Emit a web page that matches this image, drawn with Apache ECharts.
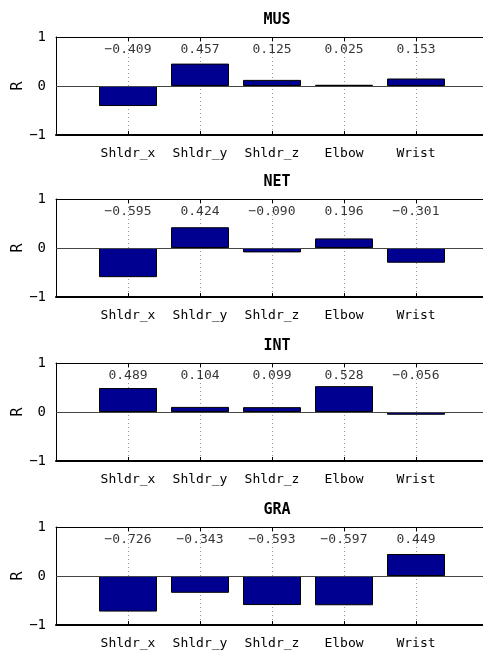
<!DOCTYPE html>
<html><head><meta charset="utf-8">
<script src="https://cdn.jsdelivr.net/npm/echarts@6/dist/echarts.min.js"></script>
<style>html,body{margin:0;padding:0;background:#fff}#c{width:483px;height:653px}</style>
</head><body><div id="c"></div>
<script>
const categories = ['Shldr_x', 'Shldr_y', 'Shldr_z', 'Elbow', 'Wrist'];
const panelTitles = ['MUS', 'NET', 'INT', 'GRA'];
const mus = [-0.409, 0.457, 0.125, 0.025, 0.153];
const net = [-0.595, 0.424, -0.090, 0.196, -0.301];
const int_ = [0.489, 0.104, 0.099, 0.528, -0.056];
const gra = [-0.726, -0.343, -0.593, -0.597, 0.449];
const yTicks = [-1, 0, 1];
const yLabel = 'R';

const panels = [mus, net, int_, gra];
const tops = [37, 199, 363, 527];
const H = 98;
const FONT = 'DejaVu Sans Mono';
const fmt = v => (v < 0 ? '\u2212' : '') + Math.abs(v).toFixed(3);

const grid = [], xAxis = [], yAxis = [], series = [], title = [];
panels.forEach((vals, i) => {
  grid.push({left: 56, top: tops[i], width: 432, height: H, containLabel: false, outerBoundsMode: 'none'});
  title.push({text: panelTitles[i], left: 272, top: tops[i] - 29, textAlign: 'center',
    textStyle: {fontFamily: FONT, fontSize: 15, fontWeight: 'bold', color: '#000'}});
  xAxis.push({gridIndex: i, type: 'value', min: 0, max: categories.length + 1, interval: 1,
    position: 'bottom',
    axisLine: {show: true, onZero: false, lineStyle: {color: '#000', width: 2}},
    axisTick: {show: true, inside: true, length: 4, lineStyle: {color: '#000'}},
    axisLabel: {show: true, fontFamily: FONT, fontSize: 13, color: '#000', margin: 12,
      formatter: v => (v >= 1 && v <= categories.length) ? categories[v - 1] : ''},
    splitLine: {show: true, lineStyle: {color: '#999', type: [1, 3], width: 1}}});
  xAxis.push({gridIndex: i, type: 'value', min: 0, max: categories.length + 1, interval: 1,
    position: 'top',
    axisLine: {show: true, onZero: false, lineStyle: {color: '#000', width: 1}},
    axisTick: {show: true, inside: true, length: 4, lineStyle: {color: '#000'}},
    axisLabel: {show: false}, splitLine: {show: false}});
  yAxis.push({gridIndex: i, type: 'value', min: yTicks[0], max: yTicks[yTicks.length - 1], interval: 1,
    name: yLabel, nameLocation: 'middle', nameGap: 30, nameRotate: 90, nameMoveOverlap: false,
    nameTextStyle: {fontFamily: FONT, fontSize: 15, color: '#000'},
    axisLine: {show: true, lineStyle: {color: '#000', width: 1}},
    axisTick: {show: true, inside: true, length: 4, lineStyle: {color: '#000'}},
    axisLabel: {fontFamily: FONT, fontSize: 14, color: '#000', margin: 10,
      formatter: v => (v < 0 ? '\u2212' : '') + Math.abs(v)},
    splitLine: {show: false}});
  series.push({type: 'bar', xAxisIndex: 2 * i, yAxisIndex: i, barWidth: 58,
    data: vals.map((v, k) => [k + 1, v]),
    itemStyle: {color: '#000090', borderColor: '#000', borderWidth: 1},
    markLine: {silent: true, symbol: 'none', label: {show: false},
      lineStyle: {color: '#444', type: 'solid', width: 1}, data: [{yAxis: 0}]},
    z: 3});
  series.push({type: 'scatter', xAxisIndex: 2 * i, yAxisIndex: i, symbolSize: 0,
    data: vals.map((v, k) => ({value: [k + 1, 0.75], txt: fmt(v)})),
    label: {show: true, position: 'inside', formatter: p => p.data.txt,
      fontFamily: FONT, fontSize: 13, color: '#000'}, z: 4});
});

const chart = echarts.init(document.getElementById('c'), null, {renderer: 'canvas'});
chart.setOption({animation: false, backgroundColor: '#fff', title, grid, xAxis, yAxis, series});
</script></body></html>
